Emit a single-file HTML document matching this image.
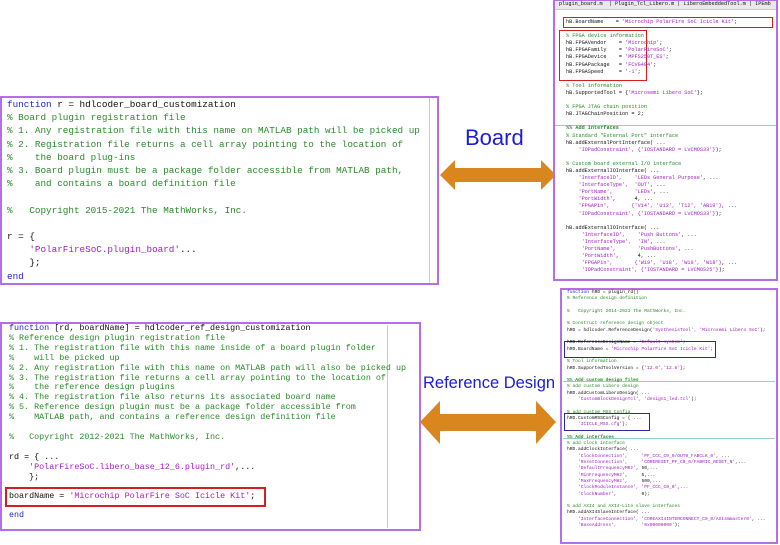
<!DOCTYPE html>
<html><head><meta charset="utf-8"><style>
*{margin:0;padding:0;box-sizing:border-box}
body{width:780px;height:545px;background:#fff;position:relative;overflow:hidden;font-family:"Liberation Mono",monospace}
.box{position:absolute;border:2px solid #b46ee6;background:#fff;overflow:hidden}
pre{position:absolute;font-family:"Liberation Mono",monospace;white-space:pre;color:#2a8a2a}
.k{color:#1f1fd0}.s{color:#a020c0}.b{color:#111}
.lbl{position:absolute;font-family:"Liberation Sans",sans-serif;color:#1c1cd8;white-space:nowrap}
.tiny{font-size:5.2px;line-height:7px}
</style></head><body>

<div class="box" style="left:0;top:96px;width:439px;height:189px"></div>
<div style="position:absolute;left:429px;top:98px;width:1px;height:185px;background:#ccc"></div>
<pre style="left:7px;top:98px;font-size:9.3px;line-height:13.2px"><span class="k">function</span> <span class="b">r = hdlcoder_board_customization</span>
% Board plugin registration file
% 1. Any registration file with this name on MATLAB path will be picked up
% 2. Registration file returns a cell array pointing to the location of
%    the board plug-ins
% 3. Board plugin must be a package folder accessible from MATLAB path,
%    and contains a board definition file

%   Copyright 2015-2021 The MathWorks, Inc.

<span class="b">r = {</span>
    <span class="s">'PolarFireSoC.plugin_board'</span><span class="b">...</span>
    <span class="b">};</span>
<span class="k">end</span></pre>

<div class="box" style="left:0;top:322px;width:421px;height:209px"></div>
<div style="position:absolute;left:387px;top:325px;width:1px;height:203px;background:#ccc"></div>
<pre style="left:9px;top:324px;font-size:8.4px;line-height:9.9px"><span class="k">function</span> <span class="b">[rd, boardName] = hdlcoder_ref_design_customization</span>
% Reference design plugin registration file
% 1. The registration file with this name inside of a board plugin folder
%    will be picked up
% 2. Any registration file with this name on MATLAB path will also be picked up
% 3. The registration file returns a cell array pointing to the location of
%    the reference design plugins
% 4. The registration file also returns its associated board name
% 5. Reference design plugin must be a package folder accessible from
%    MATLAB path, and contains a reference design definition file

%   Copyright 2012-2021 The MathWorks, Inc.

<span class="b">rd = { ...</span>
    <span class="s">'PolarFireSoC.libero_base_12_6.plugin_rd'</span><span class="b">,...</span>
    <span class="b">};</span>
</pre>
<div style="position:absolute;left:5px;top:487px;width:261px;height:20px;border:2px solid #d02020"></div>
<pre style="left:9px;top:492px;font-size:8.4px;line-height:9.9px"><span class="b">boardName = </span><span class="s">'Microchip PolarFire SoC Icicle Kit'</span><span class="b">;</span></pre>
<pre style="left:9px;top:511px;font-size:8.4px;line-height:9.9px"><span class="k">end</span></pre>

<div class="lbl" style="left:465px;top:125px;font-size:22px">Board</div>
<svg style="position:absolute;left:438px;top:158px" width="120" height="34"><polygon points="2,17 17,2 17,10 103,10 103,2 118,17 103,32 103,24 17,24 17,32" fill="#d9861f"/></svg>
<div class="lbl" style="left:423px;top:374px;font-size:16.5px">Reference Design</div>
<svg style="position:absolute;left:419px;top:400px" width="138" height="45"><polygon points="1,22 21,1 21,14 117,14 117,1 137,22 117,44 117,31 21,31 21,44" fill="#d9861f"/></svg>

<div class="box" style="left:553px;top:0;width:225px;height:281px"></div>
<div style="position:absolute;left:555px;top:1px;width:221px;height:9px;background:#e8e8ee;border-bottom:1px solid #ccc;overflow:hidden"><pre class="tiny b" style="left:4px;top:0">plugin_board.m  | Plugin_Tcl_Libero.m | LiberoEmbeddedTool.m | IPEmb</pre></div>
<div style="position:absolute;left:555px;top:125px;width:221px;height:1px;background:#9cc"></div>
<div style="position:absolute;left:563px;top:17px;width:210px;height:11px;border:1.5px solid #d02020"></div>
<div style="position:absolute;left:559px;top:30px;width:88px;height:51px;border:1.5px solid #d02020"></div>
<pre class="tiny b" style="left:566px;top:19px;line-height:7.1px">hB.BoardName    = <span class="s">'Microchip PolarFire SoC Icicle Kit'</span>;

<span style="color:#2a8a2a">% FPGA device information</span>
hB.FPGAVendor    = <span class="s">'Microchip'</span>;
hB.FPGAFamily    = <span class="s">'PolarFireSoC'</span>;
hB.FPGADevice    = <span class="s">'MPFS250T_ES'</span>;
hB.FPGAPackage   = <span class="s">'FCVG484'</span>;
hB.FPGASpeed     = <span class="s">'-1'</span>;

<span style="color:#2a8a2a">% Tool information</span>
hB.SupportedTool = {<span class="s">'Microsemi Libero SoC'</span>};

<span style="color:#2a8a2a">% FPGA JTAG chain position</span>
hB.JTAGChainPosition = 2;

<span style="color:#2a8a2a"><b>%% Add interfaces</b></span>
<span style="color:#2a8a2a">% Standard "External Port" interface</span>
hB.addExternalPortInterface( ...
    <span class="s">'IOPadConstraint', {'IOSTANDARD = LVCMOS33'}</span>);

<span style="color:#2a8a2a">% Custom board external I/O interface</span>
hB.addExternalIOInterface( ...
    <span class="s">'InterfaceID',    'LEDs General Purpose'</span>, ...
    <span class="s">'InterfaceType',  'OUT'</span>, ...
    <span class="s">'PortName',       'LEDs'</span>, ...
    <span class="s">'PortWidth'</span>,      4, ...
    <span class="s">'FPGAPin',       {'V14', 'U13', 'T12', 'AB19'}</span>, ...
    <span class="s">'IOPadConstraint', {'IOSTANDARD = LVCMOS33'}</span>);

hB.addExternalIOInterface( ...
     <span class="s">'InterfaceID',    'Push Buttons'</span>, ...
     <span class="s">'InterfaceType',  'IN'</span>, ...
     <span class="s">'PortName',       'PushButtons'</span>, ...
     <span class="s">'PortWidth'</span>,      4, ...
     <span class="s">'FPGAPin',       {'W19', 'U18', 'W19', 'W18'}</span>, ...
     <span class="s">'IOPadConstraint', {'IOSTANDARD = LVCMOS25'}</span>);</pre>

<div class="box" style="left:560px;top:288px;width:218px;height:256px"></div>
<div style="position:absolute;left:563px;top:381px;width:212px;height:1px;background:#9cc"></div>
<div style="position:absolute;left:563px;top:438px;width:212px;height:1px;background:#9cc"></div>
<div style="position:absolute;left:564px;top:341px;width:152px;height:17px;border:1.5px solid #2a2aa0"></div>
<div style="position:absolute;left:564px;top:413px;width:86px;height:18px;border:1.5px solid #2a2aa0"></div>
<pre class="b" style="left:567px;top:290px;font-size:4.6px;line-height:6.3px"><span class="k">function</span> hRD = plugin_rd()
<span style="color:#2a8a2a">% Reference design definition</span>

<span style="color:#2a8a2a">%   Copyright 2014-2021 The MathWorks, Inc.</span>

<span style="color:#2a8a2a">% Construct reference design object</span>
hRD = hdlcoder.ReferenceDesign(<span class="s">'SynthesisTool', 'Microsemi Libero SoC'</span>);

hRD.ReferenceDesignName = <span class="s">'Default system'</span>;
hRD.BoardName = <span class="s">'Microchip PolarFire SoC Icicle Kit'</span>;

<span style="color:#2a8a2a">% Tool information</span>
hRD.SupportedToolVersion = {<span class="s">'12.0','12.6'</span>};

<span style="color:#2a8a2a"><b>%% Add custom design files</b></span>
<span style="color:#2a8a2a">% add custom Libero design</span>
hRD.addCustomLiberoDesign( ...
    <span class="s">'CustomBlockDesignTcl', 'design1_led.tcl'</span>);

<span style="color:#2a8a2a">% add custom MSS Config</span>
hRD.CustomMSSConfig = { ...
    <span class="s">'ICICLE_MSS.cfg'</span>};

<span style="color:#2a8a2a"><b>%% Add interfaces</b></span>
<span style="color:#2a8a2a">% add clock interface</span>
hRD.addClockInterface( ...
    <span class="s">'ClockConnection',     'PF_CCC_C0_0/OUT0_FABCLK_0'</span>, ...
    <span class="s">'ResetConnection',     'CORERESET_PF_C0_0/FABRIC_RESET_N'</span>,...
    <span class="s">'DefaultFrequencyMHz'</span>, 50,...
    <span class="s">'MinFrequencyMHz'</span>,     5,...
    <span class="s">'MaxFrequencyMHz'</span>,     500,...
    <span class="s">'ClockModuleInstance', 'PF_CCC_C0_0'</span>,...
    <span class="s">'ClockNumber'</span>,         0);

<span style="color:#2a8a2a">% add AXI4 and AXI4-Lite slave interfaces</span>
hRD.addAXI4SlaveInterface( ...
    <span class="s">'InterfaceConnection', 'COREAXI4INTERCONNECT_C0_0/AXI4mmaster0'</span>, ...
    <span class="s">'BaseAddress',         '0x00000000'</span>);</pre>
</body></html>
